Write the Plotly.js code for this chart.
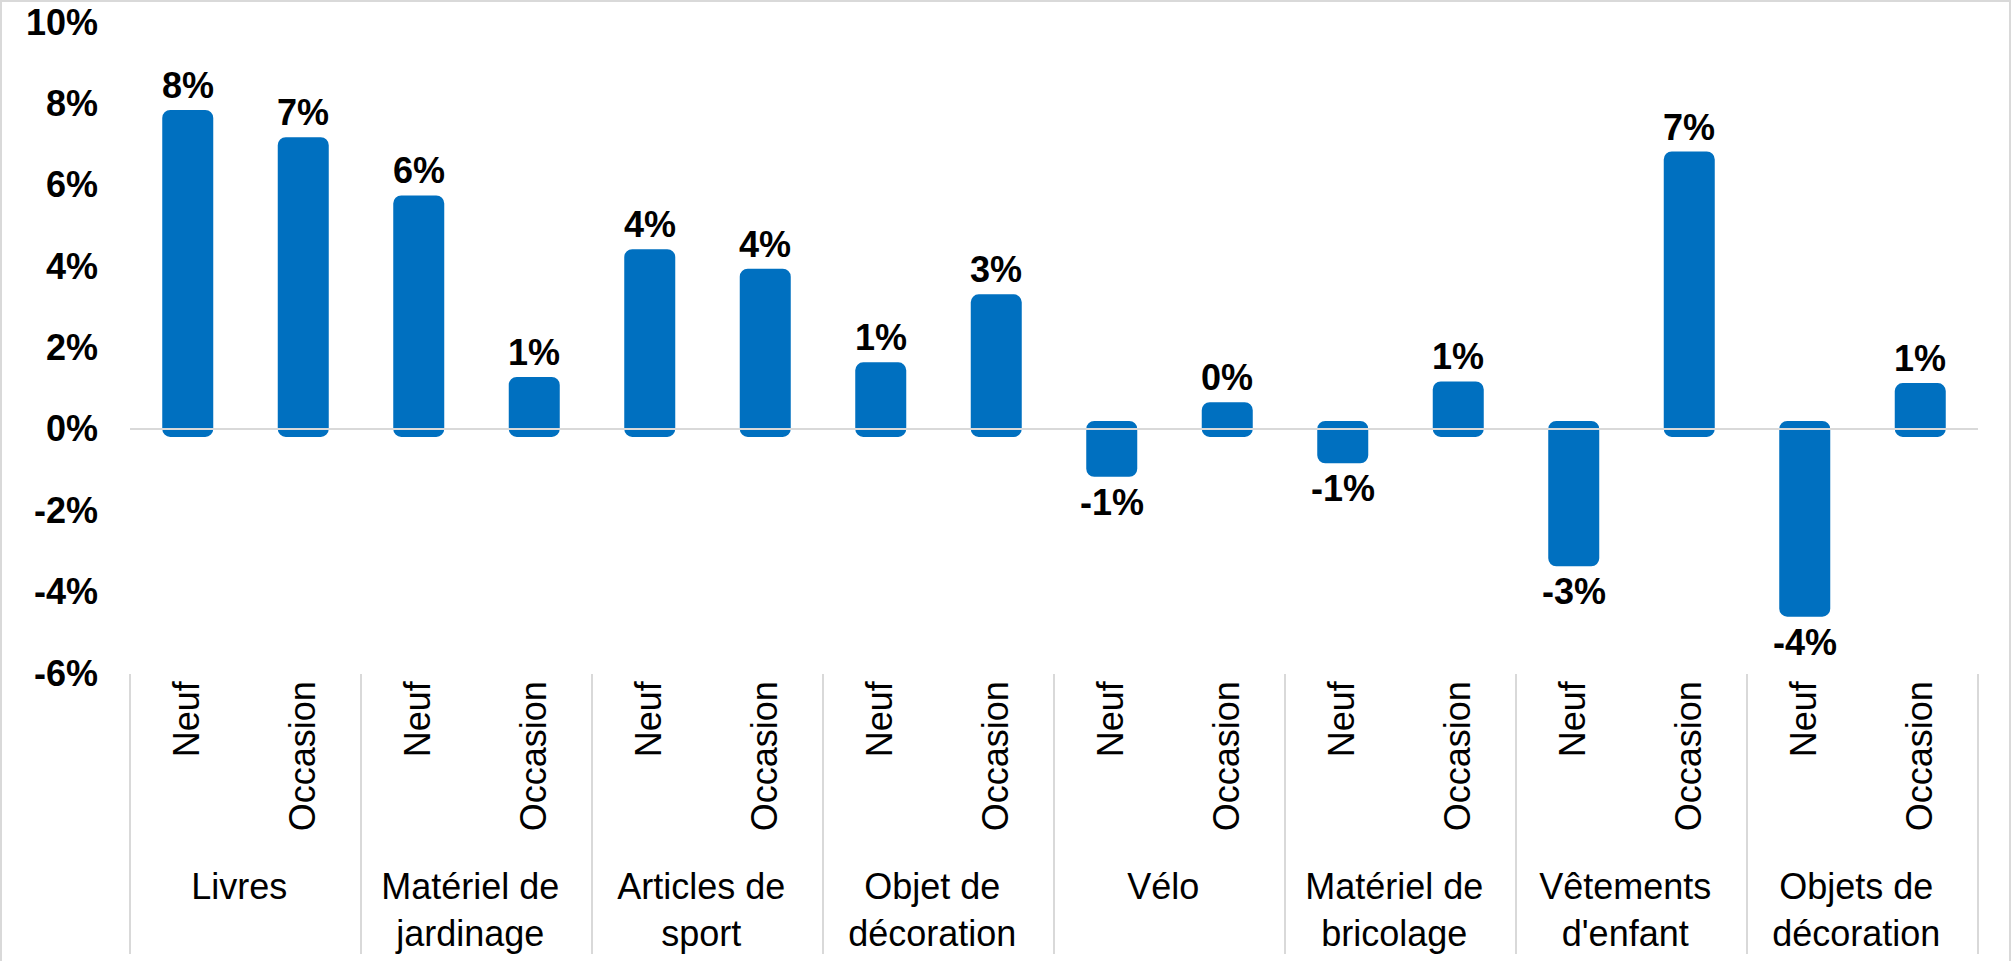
<!DOCTYPE html>
<html>
<head>
<meta charset="utf-8">
<script src="https://cdn.plot.ly/plotly-3.0.1.min.js"></script>
<style>
  html, body { margin: 0; padding: 0; background: #ffffff; }
  #wrap { position: relative; width: 2011px; height: 961px; }
  #chart { width: 2011px; height: 961px; }
  #frame { position: absolute; left: 0; top: 0; width: 2011px; height: 961px; box-sizing: border-box;
           border: 2px solid #d9d9d9; border-bottom: none; pointer-events: none; }
  #chart .barlayer path { stroke-linejoin: round !important; }
</style>
</head>
<body>
<div id="wrap"><div id="chart"></div><div id="frame"></div></div>
<script>
// Categories (group, sub-category) and values (%)
var groups = ["Livres", "Matériel de<br>jardinage", "Articles de<br>sport", "Objet de<br>décoration",
              "Vélo", "Matériel de<br>bricolage", "Vêtements<br>d'enfant", "Objets de<br>décoration"];
var subs = ["Neuf", "Occasion"];
var neufValues     = [7.64, 5.54, 4.22, 1.44, -0.98, -0.65, -3.18, -4.42];
var occasionValues = [6.97, 1.08, 3.74, 3.11, 0.46, 0.97, 6.62, 0.93];
var yTickVals = [-6, -4, -2, 0, 2, 4, 6, 8, 10];
var yTickText = ["-6%", "-4%", "-2%", "0%", "2%", "4%", "6%", "8%", "10%"];

var xGroup = [], xSub = [], yVals = [];
for (var i = 0; i < groups.length; i++) {
  xGroup.push(groups[i]); xSub.push(subs[0]); yVals.push(neufValues[i]);
  xGroup.push(groups[i]); xSub.push(subs[1]); yVals.push(occasionValues[i]);
}

var FONT = "Liberation Sans, Arial, sans-serif";
var BLUE = "#0070C0";

var trace = {
  type: "bar",
  x: [xGroup, xSub],
  y: yVals,
  marker: { color: BLUE, line: { color: BLUE, width: 16 } },
  hoverinfo: "skip"
};

// value labels, from the data
var annotations = yVals.map(function (v, idx) {
  var r = Math.round(v);
  return {
    x: idx, y: v, xref: "x", yref: "y",
    text: (r === 0 ? 0 : r) + "%",
    showarrow: false,
    xanchor: "center",
    yanchor: v >= 0 ? "bottom" : "top",
    yshift: v >= 0 ? 10 : -11,
    font: { family: FONT, size: 36, color: "#000000", weight: "bold" }
  };
});

var layout = {
  width: 2011,
  height: 961,
  margin: { l: 130, r: 33, t: 22, b: 288, pad: 0 },
  paper_bgcolor: "#ffffff",
  plot_bgcolor: "#ffffff",
  showlegend: false,
  bargap: 0.697,
  font: { family: FONT, size: 36, color: "#000000" },
  xaxis: {
    type: "multicategory",
    tickangle: -90,
    showdividers: true,
    dividercolor: "#d9d9d9",
    dividerwidth: 2,
    showline: false,
    showgrid: false,
    zeroline: false,
    ticks: "outside",
    ticklen: 7,
    tickcolor: "rgba(0,0,0,0)",
    tickfont: { family: FONT, size: 36, color: "#000000" }
  },
  yaxis: {
    range: [-6, 10],
    tickvals: yTickVals,
    ticktext: yTickText,
    showgrid: false,
    zeroline: false,
    showline: false,
    ticks: "",
    ticklabelstandoff: 31,
    tickfont: { family: FONT, size: 36, color: "#000000", weight: "bold" }
  },
  annotations: annotations,
  shapes: [{
    type: "line", xref: "paper", yref: "y", x0: 0, x1: 1, y0: 0, y1: 0,
    line: { color: "#d9d9d9", width: 2 }, layer: "above"
  }]
};

Plotly.newPlot("chart", [trace], layout, { displayModeBar: false, staticPlot: true }).then(function (gd) {
  gd.querySelectorAll(".barlayer path").forEach(function (p) {
    p.style.strokeLinejoin = "round";
  });
});
</script>
</body>
</html>
